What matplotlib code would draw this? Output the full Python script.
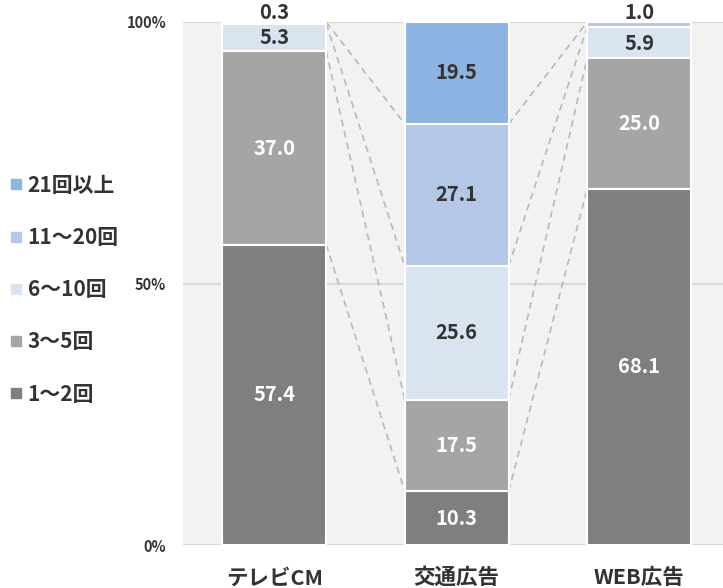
import numpy as np
import matplotlib.pyplot as plt
from matplotlib.lines import Line2D

plt.rcParams['font.family'] = ['Noto Sans CJK JP', 'DejaVu Sans']

categories = ['テレビCM', '交通広告', 'WEB広告']
series = ['1～2回', '3～5回', '6～10回', '11～20回', '21回以上']
once_twice = [57.4, 10.3, 68.1]
three_five = [37.0, 17.5, 25.0]
six_ten = [5.3, 25.6, 5.9]
eleven_twenty = [0.3, 27.1, 1.0]
over_21 = [0.0, 19.5, 0.0]
colors = ['#7f7f7f', '#a5a5a5', '#dae3f0', '#b4c7e7', '#8eb4e3']
label_colors = ['white', 'white', '#333333', '#333333', '#333333']

values = np.array([once_twice, three_five, six_ten, eleven_twenty, over_21])

fig = plt.figure(figsize=(7.23, 5.88), dpi=100)
ax = fig.add_axes([183/723, 43/588, (735-183)/723, 523/588])
ax.set_facecolor('#f2f2f2')

x = np.arange(len(categories))
w = 0.57
bottom = np.zeros(len(categories))
for i, s in enumerate(series):
    ax.bar(x, values[i], w, bottom=bottom, color=colors[i], edgecolor='white',
           linewidth=1.5, label=s, zorder=3)
    for j in range(len(categories)):
        v = values[i][j]
        if v == 0:
            continue
        if v < 2:
            # tiny segment: label above the bar
            ax.text(x[j], 101.8, f'{v:.1f}', ha='center', va='center',
                    fontsize=14.5, fontweight='bold', color='#333333', zorder=5)
        elif v < 7:
            ax.text(x[j], bottom[j] + v / 2 - 0.1, f'{v:.1f}', ha='center', va='center',
                    fontsize=14.5, fontweight='bold', color='#333333', zorder=5)
        else:
            ax.text(x[j], bottom[j] + v / 2, f'{v:.1f}', ha='center', va='center',
                    fontsize=14.5, fontweight='bold', color=label_colors[i], zorder=5)
    bottom += values[i]

# dashed connectors between segment boundaries
cum = np.cumsum(values, axis=0)
for k in range(len(series) - 1):
    for j in range(len(categories) - 1):
        ax.plot([x[j] + w / 2, x[j + 1] - w / 2], [cum[k][j], cum[k][j + 1]],
                ls=(0, (4, 3)), color='#b8b8b8', lw=1.2, zorder=2)

for yv in [0, 50, 100]:
    ax.axhline(yv, color='#d9d9d9', lw=1.5, zorder=1)

ax.set_xlim(-0.5, 2.525)
ax.set_ylim(0, 100)
ax.set_yticks([0, 50, 100])
ax.set_yticklabels(['0%', '50%', '100%'], fontsize=10.5, fontweight='bold', color='#333333')
ax.set_xticks(x)
ax.set_xticklabels(categories, fontsize=15.5, fontweight='bold', color='#333333')
ax.tick_params(length=0)
ax.tick_params(axis='y', pad=12)
ax.tick_params(axis='x', pad=16)
for sp in ax.spines.values():
    sp.set_visible(False)

handles = [Line2D([], [], marker='s', ls='', color=colors[i], markersize=7.5)
           for i in range(len(series))][::-1]
fig.legend(handles, series[::-1], loc='upper left', bbox_to_anchor=(-0.018, 0.735),
           frameon=False, handletextpad=0.05, labelspacing=1.5, handlelength=1.0,
           prop={'size': 15, 'weight': 'bold'}, labelcolor='#333333')

fig.savefig('out.png', dpi=100)
